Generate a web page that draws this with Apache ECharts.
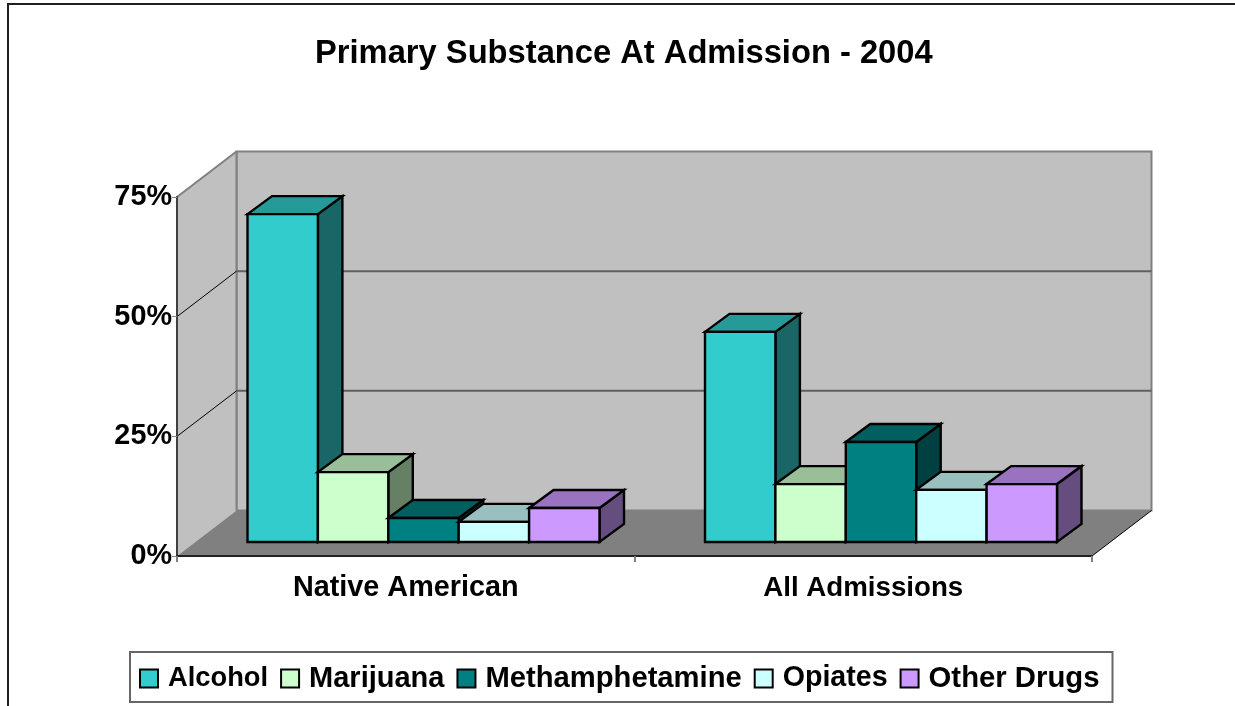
<!DOCTYPE html>
<html><head><meta charset="utf-8">
<style>html,body{margin:0;padding:0;background:#fff}#c{width:1235px;height:706px}</style>
<script src="https://cdn.jsdelivr.net/npm/echarts@6/dist/echarts.min.js"></script>
</head><body><div id="c"></div>
<script>
const titleText = 'Primary Substance At Admission - 2004';
const categories = ['Native American', 'All Admissions'];
const seriesNames = ['Alcohol', 'Marijuana', 'Methamphetamine', 'Opiates', 'Other Drugs'];
const alcohol = [68.5, 43.9];
const marijuana = [14.6, 12.1];
const methamphetamine = [5.0, 20.9];
const opiates = [4.2, 10.9];
const otherDrugs = [7.1, 12.1];
const colors = ['#33CCCC', '#CCFFCC', '#008080', '#CCFFFF', '#CC99FF'];
const yTicks = [0, 25, 50, 75];

const FONT = '"Liberation Sans", Arial, sans-serif';
const DEPTH_X = 59.5, DEPTH_Y = 45.5;      // full floor depth
const BAR_W = 70.4, BAR_DX = 24.5, BAR_DY = 18;   // bar width and depth
const INSET_X = 17.75, INSET_Y = 14;       // bar front face inset from chart front
const legendFontSizes = [27.3, 29, 29.2, 28.6, 29.3];
const categoryFontSizes = [28.8, 27.7];

function shade(hex, f) {
  const n = parseInt(hex.slice(1), 16);
  const c = [(n >> 16) & 255, (n >> 8) & 255, n & 255].map(v => Math.round(v * f));
  return 'rgb(' + c.join(',') + ')';
}

function renderWalls(params, api) {
  const cs = params.coordSys;
  const L = cs.x, R = cs.x + cs.width;
  const y0 = api.coord([0, 0])[1], yTop = api.coord([0, 75])[1];
  const grey = { stroke: '#808080', lineWidth: 2 };
  const kids = [];
  kids.push({ type: 'polygon', shape: { points: [[L + DEPTH_X, yTop - DEPTH_Y], [R + DEPTH_X, yTop - DEPTH_Y], [R + DEPTH_X, y0 - DEPTH_Y], [L + DEPTH_X, y0 - DEPTH_Y]] }, style: { fill: '#C0C0C0', stroke: '#808080', lineWidth: 2 } });
  kids.push({ type: 'polygon', shape: { points: [[L, yTop], [L + DEPTH_X, yTop - DEPTH_Y], [L + DEPTH_X, y0 - DEPTH_Y], [L, y0]] }, style: { fill: '#C0C0C0' } });
  kids.push({ type: 'line', shape: { x1: L, y1: yTop, x2: L + DEPTH_X, y2: yTop - DEPTH_Y }, style: grey });
  kids.push({ type: 'line', shape: { x1: L + DEPTH_X, y1: yTop - DEPTH_Y, x2: L + DEPTH_X, y2: y0 - DEPTH_Y }, style: grey });
  yTicks.slice(1, -1).forEach(t => {
    const y = api.coord([0, t])[1];
    kids.push({ type: 'line', shape: { x1: L + DEPTH_X, y1: y - DEPTH_Y, x2: R + DEPTH_X, y2: y - DEPTH_Y }, style: { stroke: '#606060', lineWidth: 2 } });
    kids.push({ type: 'line', shape: { x1: L, y1: y, x2: L + DEPTH_X, y2: y - DEPTH_Y }, style: { stroke: '#000', lineWidth: 1 } });
  });
  kids.push({ type: 'polygon', shape: { points: [[L, y0], [R, y0], [R + DEPTH_X, y0 - DEPTH_Y], [L + DEPTH_X, y0 - DEPTH_Y]] }, style: { fill: '#808080' } });
  kids.push({ type: 'line', shape: { x1: R, y1: y0, x2: R + DEPTH_X, y2: y0 - DEPTH_Y }, style: { stroke: '#000', lineWidth: 1 } });
  return { type: 'group', children: kids };
}

function barRenderer(k) {
  return function (params, api) {
    const i = api.value(0), v = api.value(1);
    const c = api.coord([i, v]), b = api.coord([i, 0]);
    const x0 = c[0] + INSET_X + (k - 2.5) * BAR_W, x1 = x0 + BAR_W;
    const top = c[1] - INSET_Y, base = b[1] - INSET_Y;
    const col = colors[k];
    const line = { stroke: '#000', lineWidth: 2.4, lineJoin: 'miter' };
    return { type: 'group', children: [
      { type: 'polygon', shape: { points: [[x1, top], [x1 + BAR_DX, top - BAR_DY], [x1 + BAR_DX, base - BAR_DY], [x1, base]] }, style: Object.assign({ fill: shade(col, 0.5) }, line) },
      { type: 'polygon', shape: { points: [[x0, top], [x0 + BAR_DX, top - BAR_DY], [x1 + BAR_DX, top - BAR_DY], [x1, top]] }, style: Object.assign({ fill: shade(col, 0.75) }, line) },
      { type: 'rect', shape: { x: x0, y: top, width: BAR_W, height: base - top }, style: Object.assign({ fill: col }, line) }
    ] };
  };
}

const valueLists = [alcohol, marijuana, methamphetamine, opiates, otherDrugs];
const series = [{ type: 'custom', coordinateSystem: 'cartesian2d', renderItem: renderWalls, data: [[0, 0]], z: 1, silent: true, legendHoverLink: false, tooltip: { show: false } }];
seriesNames.forEach((name, k) => {
  series.push({
    type: 'custom', name, coordinateSystem: 'cartesian2d', z: 2,
    renderItem: barRenderer(k),
    itemStyle: { color: colors[k] },
    encode: { x: 0, y: 1 },
    data: categories.map((_, i) => [i, valueLists[k][i]])
  });
});

const chart = echarts.init(document.getElementById('c'), null, { renderer: 'canvas' });
chart.setOption({
  animation: false,
  backgroundColor: '#fff',
  title: { text: titleText, left: 310, top: 32, textStyle: { fontFamily: FONT, fontWeight: 'bold', fontSize: 32.7, color: '#000' } },
  grid: { left: 177, right: 143, top: 197, bottom: 150 },
  xAxis: {
    type: 'category', z: 5,
    data: categories.map((c, i) => ({ value: c, textStyle: { fontSize: categoryFontSizes[i] } })),
    axisLine: { lineStyle: { color: '#202020', width: 2 } },
    axisTick: { show: true, length: 6, lineStyle: { color: '#808080', width: 2 } },
    axisLabel: { margin: 18, fontFamily: FONT, fontWeight: 'bold', fontSize: 28.8, color: '#000' },
    splitLine: { show: false }
  },
  yAxis: {
    type: 'value', min: 0, max: 75, interval: 25, z: 5,
    axisLine: { show: true, lineStyle: { color: '#404040', width: 2 } },
    axisTick: { show: true, length: 5, lineStyle: { color: '#808080', width: 1 } },
    axisLabel: { margin: 5, formatter: '{value}%', fontFamily: FONT, fontWeight: 'bold', fontSize: 28.8, color: '#000', padding: [12, 0, 0, 0] },
    splitLine: { show: false }
  },
  legend: {
    left: 130, top: 652, orient: 'horizontal',
    padding: [12, 13, 9, 9], itemGap: 12, itemWidth: 18, itemHeight: 18,
    icon: 'rect',
    borderColor: '#666', borderWidth: 2, backgroundColor: '#fff',
    itemStyle: { borderColor: '#000', borderWidth: 2 },
    textStyle: { fontFamily: FONT, fontWeight: 'bold', fontSize: 29, color: '#000', padding: [0, 0, 0, 5] },
    data: seriesNames.map((n, i) => ({ name: n, textStyle: { fontSize: legendFontSizes[i] } }))
  },
  graphic: [{ type: 'polyline', silent: true, z: 10, shape: { points: [[8, 710], [8, 4], [1240, 4]] }, style: { stroke: '#202020', lineWidth: 2, fill: null } }],
  series
});
</script></body></html>
